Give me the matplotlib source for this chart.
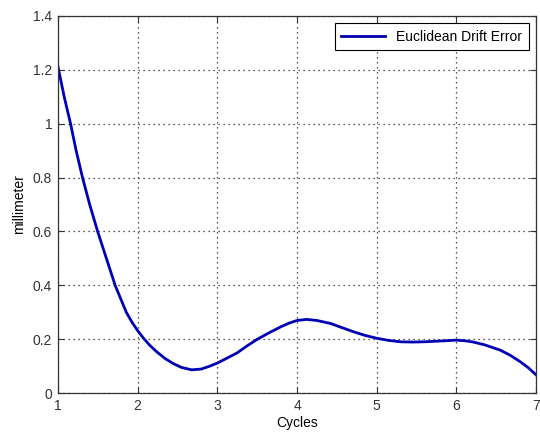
import numpy as np
import matplotlib.pyplot as plt

# values
cycles = [1.0, 1.08, 1.16, 1.23, 1.31, 1.40, 1.5, 1.61, 1.72, 1.86, 1.93, 2.0,
          2.07, 2.15, 2.24, 2.35, 2.45, 2.55, 2.68, 2.8, 2.9, 3.0, 3.12, 3.25,
          3.37, 3.5, 3.66, 3.8, 3.9, 4.0, 4.12, 4.25, 4.42, 4.55, 4.71, 4.85,
          5.0, 5.15, 5.3, 5.45, 5.6, 5.8, 6.0, 6.1, 6.21, 6.35, 6.45, 6.55,
          6.68, 6.8, 6.9, 7.0]
drift = [1.215, 1.1, 1.0, 0.9, 0.8, 0.7, 0.6, 0.5, 0.4, 0.3, 0.264, 0.233,
         0.206, 0.179, 0.154, 0.128, 0.11, 0.096, 0.087, 0.09, 0.1, 0.112, 0.13, 0.15,
         0.175, 0.2, 0.226, 0.247, 0.26, 0.27, 0.274, 0.27, 0.259, 0.245, 0.228, 0.215,
         0.204, 0.196, 0.191, 0.19, 0.191, 0.194, 0.197, 0.195, 0.19, 0.18, 0.17, 0.16,
         0.14, 0.117, 0.095, 0.068]
xticks = [1, 2, 3, 4, 5, 6, 7]
yticks = [0, 0.2, 0.4, 0.6, 0.8, 1, 1.2, 1.4]
ytick_labels = ['0', '0.2', '0.4', '0.6', '0.8', '1', '1.2', '1.4']

plt.rcParams['font.family'] = ['Liberation Sans', 'DejaVu Sans']
plt.rcParams['font.size'] = 10

fig = plt.figure(figsize=(5.4, 4.37), dpi=100)
ax = fig.add_axes([0.107, 0.1, 0.886, 0.864])

ax.plot(cycles, drift, color='#0000b4', lw=2, label='Euclidean Drift Error',
        solid_joinstyle='round')

ax.set_xlim(1, 7)
ax.set_ylim(0, 1.4)
ax.set_xticks(xticks)
ax.set_yticks(yticks)
ax.set_yticklabels(ytick_labels)
ax.tick_params(direction='in', top=True, right=True, length=4, width=0.8,
               labelsize=10, colors='#333333', pad=4)
ax.grid(True, linestyle=(0, (1, 3)), color='#222222', lw=0.9)
for s in ax.spines.values():
    s.set_color('#333333')
    s.set_linewidth(0.9)

ax.set_xlabel('Cycles', fontsize=10, labelpad=2)
ax.set_ylabel('millimeter', fontsize=10, labelpad=5)

leg = ax.legend(loc='upper right', fancybox=False, framealpha=1,
                edgecolor='black', handlelength=3.2, borderaxespad=0.55,
                fontsize=10, borderpad=0.45)
leg.get_frame().set_linewidth(0.8)

fig.savefig('out.png', dpi=100, facecolor='white')
